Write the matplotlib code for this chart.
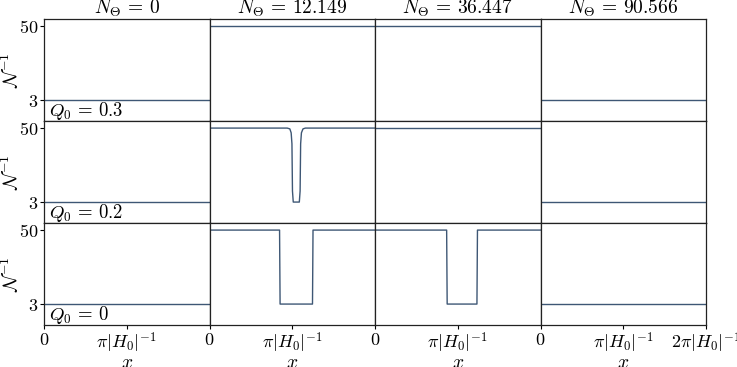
import numpy as np
import matplotlib
matplotlib.use('Agg')
from matplotlib import pyplot as plt

plt.rcParams['mathtext.fontset'] = 'cm'
plt.rcParams['font.family'] = 'serif'
plt.rcParams['font.serif'] = ['DejaVu Serif']

n_theta = ['0', '12.149', '36.447', '90.566']
q0 = ['0.3', '0.2', '0']
L = 2 * np.pi

# curves as (x, y) per row and column
flat_low_x = [0, L]
flat_low_y = [3, 3]
flat_high_x = [0, L]
flat_high_y = [50, 50]

dip_narrow_x = [0, 2.95, 3.05, 3.10, 3.13, 3.15, 3.18, 3.41, 3.44, 3.46, 3.49, 3.55, 3.64, L]
dip_narrow_y = [50, 50, 49.5, 47, 40, 10, 3, 3, 10, 40, 47, 49.5, 50, 50]

dip_wide2_x = [0, 2.66, 2.67, 2.68, 3.91, 3.92, 3.93, L]
dip_wide2_y = [50, 50, 26, 3, 3, 26, 50, 50]

dip_wide3_x = [0, 2.72, 2.73, 2.74, 3.87, 3.88, 3.89, L]
dip_wide3_y = [50, 50, 26, 3, 3, 26, 50, 50]

curves = [
    [(flat_low_x, flat_low_y), (flat_high_x, flat_high_y), (flat_high_x, flat_high_y), (flat_low_x, flat_low_y)],
    [(flat_low_x, flat_low_y), (dip_narrow_x, dip_narrow_y), (flat_high_x, flat_high_y), (flat_low_x, flat_low_y)],
    [(flat_low_x, flat_low_y), (dip_wide2_x, dip_wide2_y), (dip_wide3_x, dip_wide3_y), (flat_low_x, flat_low_y)],
]

line_color = '#3e5775'

fig, axes = plt.subplots(3, 4, figsize=(7.37, 3.67), dpi=100)
fig.subplots_adjust(left=44/737, right=706/737, top=1-19/367, bottom=1-325/367,
                    wspace=0, hspace=0)

for r in range(3):
    for c in range(4):
        ax = axes[r, c]
        x, y = curves[r][c]
        ax.plot(x, y, color=line_color, lw=1.0)
        ax.set_xlim(0, L)
        ax.set_ylim(-10.3, 54.5)
        for s in ax.spines.values():
            s.set_color('#222222')
            s.set_linewidth(0.9)
        if c == 0:
            ax.set_yticks([3, 50])
            ax.set_yticklabels(['$3$', '$50$'], fontsize=13)
            ax.set_ylabel(r'$\mathcal{N}^{-1}$', fontsize=14, labelpad=-2)
            ax.text(0.03, -0.01, r'$Q_0\,=\,%s$' % q0[r], transform=ax.transAxes,
                    fontsize=13.5, va='bottom', ha='left')
        else:
            ax.set_yticks([])
        if r == 2:
            if c == 3:
                ax.set_xticks([0, np.pi, L])
                ax.set_xticklabels(['$0$', r'$\pi|H_0|^{-1}$', r'$2\pi|H_0|^{-1}$'], fontsize=13)
            else:
                ax.set_xticks([0, np.pi])
                ax.set_xticklabels(['$0$', r'$\pi|H_0|^{-1}$'], fontsize=13)
            ax.set_xlabel('$x$', fontsize=14, labelpad=-1)
        else:
            ax.set_xticks([])
        if r == 0:
            ax.text(0.5, 1.0, r'$N_\Theta\,=\,%s$' % n_theta[c], transform=ax.transAxes,
                    fontsize=14, ha='center', va='bottom')
        ax.tick_params(length=3, width=0.8, pad=1)

fig.savefig('out.png', dpi=100)
